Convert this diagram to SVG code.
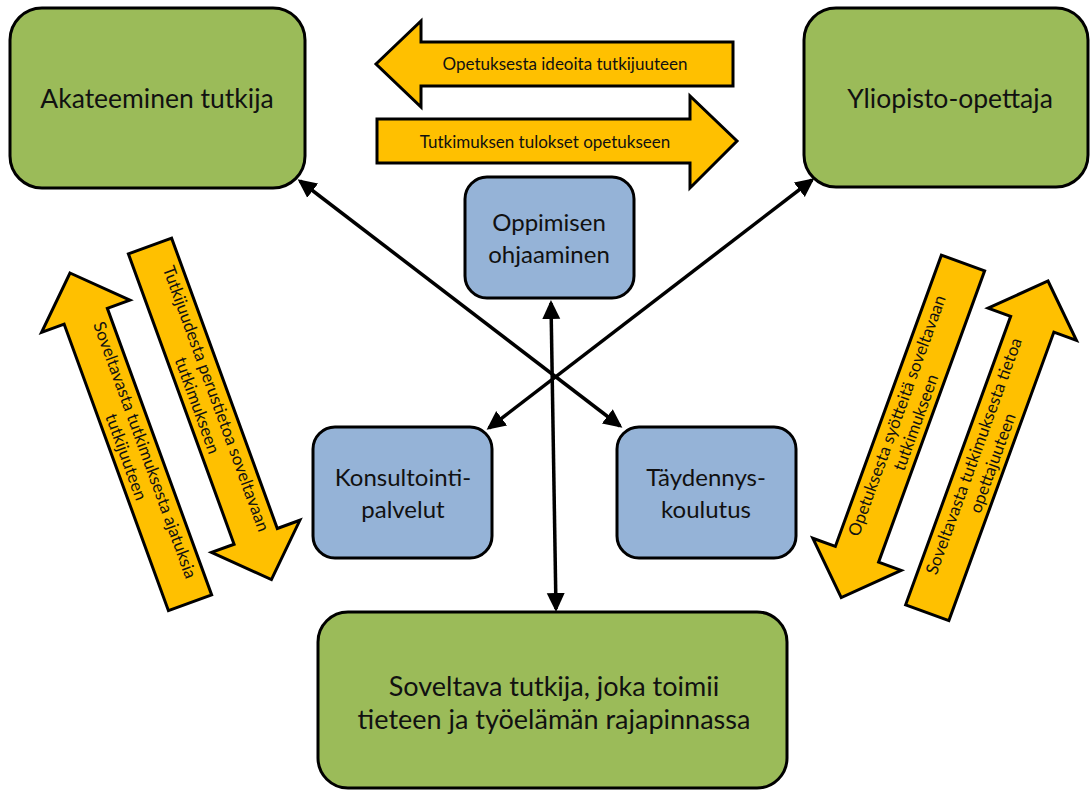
<svg xmlns="http://www.w3.org/2000/svg" width="1091" height="791" viewBox="0 0 1091 791">
<style>
.green{fill:#9BBB59;stroke:#000;stroke-width:3}
.blue{fill:#95B3D7;stroke:#000;stroke-width:3}
.orange{fill:#FFC000;stroke:#000;stroke-width:3;stroke-linejoin:miter}
.t{font-family:Lato,"Liberation Sans",sans-serif;fill:#111;text-anchor:middle}
.big{font-size:26.5px}
.mid{font-size:24px}
.sm{font-size:17px}
.conn{stroke:#000;stroke-width:3.5;fill:none;marker-start:url(#ah);marker-end:url(#ah)}
</style>
<defs>
<marker id="ah" markerUnits="userSpaceOnUse" markerWidth="20" markerHeight="20" refX="16" refY="9" orient="auto-start-reverse" viewBox="0 0 20 18">
<path d="M0,0 L19,9 L0,18 Z" fill="#000"/>
</marker>
</defs>
<rect width="1091" height="791" fill="#fff"/>

<g id="akateeminen">
<rect class="green" x="10" y="8" width="295" height="180" rx="32"/>
<text class="t big" x="157" y="108">Akateeminen tutkija</text>
</g>
<g id="yliopisto">
<rect class="green" x="804" y="8" width="284" height="179" rx="32"/>
<text class="t big" x="950" y="108">Yliopisto-opettaja</text>
</g>
<g id="oppimisen">
<rect class="blue" x="465" y="177" width="169" height="121" rx="22"/>
<text class="t mid" x="549" y="231">Oppimisen</text>
<text class="t mid" x="549" y="263">ohjaaminen</text>
</g>
<g id="konsultointi">
<rect class="blue" x="313" y="427" width="179" height="131" rx="22"/>
<text class="t mid" x="403" y="486">Konsultointi-</text>
<text class="t mid" x="403" y="518">palvelut</text>
</g>
<g id="taydennys">
<rect class="blue" x="617" y="427" width="179" height="131" rx="22"/>
<text class="t mid" x="706" y="486">Täydennys-</text>
<text class="t mid" x="706" y="518">koulutus</text>
</g>
<g id="soveltava">
<rect class="green" x="318" y="612" width="469" height="176" rx="30"/>
<text class="t" x="554" y="696" style="font-size:27px">Soveltava tutkija, joka toimii</text>
<text class="t" x="554" y="729" style="font-size:27px">tieteen ja työelämän rajapinnassa</text>
</g>

<g id="flow-top-left">
<path class="orange" d="M376,64 L421,21 L421,42 L733,42 L733,86 L421,86 L421,107 Z"/>
<text class="t sm" x="565" y="70">Opetuksesta ideoita tutkijuuteen</text>
</g>
<g id="flow-top-right">
<path class="orange" d="M377,119 L690,119 L690,96 L737,141 L690,188 L690,163 L377,163 Z"/>
<text class="t sm" x="545" y="148">Tutkimuksen tulokset opetukseen</text>
</g>

<g id="flow-left-up" transform="translate(70,273) rotate(-20)">
<path class="orange" d="M0,0 L47,46 L23,46 L23,351 L-23,351 L-23,46 L-47,46 Z"/>
<g transform="translate(0,192) rotate(90)">
<text class="t sm" x="0" y="-4">Soveltavasta tutkimuksesta ajatuksia</text>
<text class="t sm" x="0" y="16">tutkijuuteen</text>
</g>
</g>
<g id="flow-left-down" transform="translate(150,246) rotate(-20)">
<path class="orange" d="M-23,0 L23,0 L23,309 L47,309 L0,355 L-47,309 L-23,309 Z"/>
<g transform="translate(0,166) rotate(90)">
<text class="t sm" x="0" y="-4">Tutkijuudesta perustietoa soveltavaan</text>
<text class="t sm" x="0" y="16">tutkimukseen</text>
</g>
</g>
<g id="flow-right-down" transform="translate(963,263) rotate(20)">
<path class="orange" d="M-23,0 L23,0 L23,310 L47,310 L0,356 L-47,310 L-23,310 Z"/>
<g transform="translate(0,166) rotate(-90)">
<text class="t sm" x="0" y="-4">Opetuksesta syötteitä soveltavaan</text>
<text class="t sm" x="0" y="16">tutkimukseen</text>
</g>
</g>
<g id="flow-right-up" transform="translate(1048,281) rotate(20)">
<path class="orange" d="M0,0 L47,46 L23,46 L23,353 L-23,353 L-23,46 L-47,46 Z"/>
<g transform="translate(0,190) rotate(-90)">
<text class="t sm" x="0" y="-4">Soveltavasta tutkimuksesta tietoa</text>
<text class="t sm" x="0" y="16">opettajuuteen</text>
</g>
</g>

<g id="connectors">
<line class="conn" x1="300" y1="181" x2="620" y2="426"/>
<line class="conn" x1="812" y1="180" x2="489" y2="428"/>
<line class="conn" x1="551" y1="303" x2="556" y2="609"/>
</g>
</svg>
